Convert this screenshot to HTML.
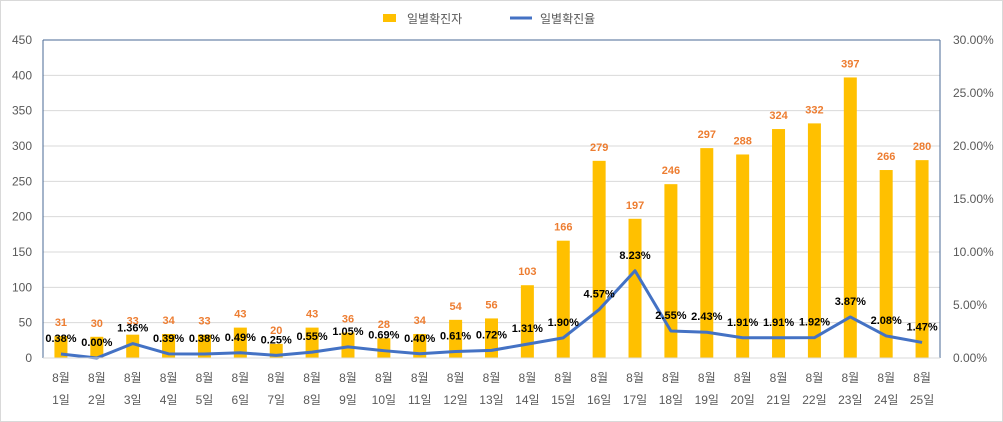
<!DOCTYPE html>
<html><head><meta charset="utf-8"><style>
body{margin:0;background:#fff}
svg{display:block;font-family:"Liberation Sans","Noto Sans CJK KR",sans-serif}
</style></head><body>
<svg id="c" width="1003" height="422">
<rect x="0.5" y="0.5" width="1002" height="421" fill="#fff" stroke="#d9d9d9"/>
<g>
<rect x="383" y="14" width="13" height="8" fill="#FFC000"/>
<text x="407" y="23" font-size="12" fill="#595959">일별확진자</text>
<line x1="510" y1="18" x2="532" y2="18" stroke="#4472C4" stroke-width="3"/>
<text x="540" y="23" font-size="12" fill="#595959">일별확진율</text>
</g>
<g id="grid"></g><g id="bars"></g><g id="line"></g><g id="labels"></g><g id="axes"></g>
</svg>
<script>
const categories=["1일","2일","3일","4일","5일","6일","7일","8일","9일","10일","11일","12일","13일","14일","15일","16일","17일","18일","19일","20일","21일","22일","23일","24일","25일"];
const cases=[31,30,33,34,33,43,20,43,36,28,34,54,56,103,166,279,197,246,297,288,324,332,397,266,280];
const rates=[0.38,0.00,1.36,0.39,0.38,0.49,0.25,0.55,1.05,0.69,0.40,0.61,0.72,1.31,1.90,4.57,8.23,2.55,2.43,1.91,1.91,1.92,3.87,2.08,1.47];
const leftTicks=[0,50,100,150,200,250,300,350,400,450];
const rightTicks=[0,5,10,15,20,25,30];
const L=43,R=940,T=40,B=358;
const NS="http://www.w3.org/2000/svg";
const yL=v=>B-(v/450)*(B-T);
const yR=v=>B-(v/30)*(B-T);
const step=(R-L)/categories.length;
const xC=i=>L+step*(i+0.5);
function mk(tag,attrs,parent,txt){const e=document.createElementNS(NS,tag);for(const k in attrs)e.setAttribute(k,attrs[k]);if(txt!==undefined)e.textContent=txt;document.getElementById(parent).appendChild(e);return e;}
leftTicks.forEach(t=>{
  if(t>0&&t<450){const g=mk('line',{x1:L,x2:R,y1:yL(t),y2:yL(t),stroke:'#d9d9d9'},'grid');
  
  }
  const e=mk('text',{x:32,y:yL(t)+4,'font-size':12,fill:'#595959','text-anchor':'end'},'axes',t);
  
  
});
rightTicks.forEach(t=>{
  const e=mk('text',{x:953,y:yR(t)+4,'font-size':12,fill:'#595959'},'axes',t.toFixed(2)+'%');
  
  
});
let a=mk('line',{x1:L,x2:L,y1:T,y2:B,stroke:'#4a6a94','stroke-width':1},'axes');


a=mk('line',{x1:R,x2:R,y1:T,y2:B,stroke:'#4a6a94','stroke-width':1},'axes');


a=mk('line',{x1:L,x2:R,y1:T,y2:T,stroke:'#4a6a94','stroke-width':1},'axes');


a=mk('line',{x1:L,x2:R,y1:B,y2:B,stroke:'#d9d9d9','stroke-width':1},'axes');


const bw=13;
categories.forEach((c,i)=>{
  const x=xC(i);
  const b=mk('rect',{x:x-bw/2,y:yL(cases[i]),width:bw,height:B-yL(cases[i]),fill:'#FFC000'},'bars');
  
  
  const bl=mk('text',{x:x,y:yL(cases[i])-10,'font-size':11,'font-weight':'bold',fill:'#ED7D31','text-anchor':'middle'},'labels',cases[i]);
  
  
  const t1=mk('text',{x:x,y:382,'font-size':12,fill:'#595959','text-anchor':'middle'},'axes','8월');
  
  
  const t2=mk('text',{x:x,y:404,'font-size':12,fill:'#595959','text-anchor':'middle'},'axes',c);
  
  
});
const pts=rates.map((r,i)=>xC(i)+','+yR(r)).join(' ');
const pl=mk('polyline',{points:pts,fill:'none',stroke:'#4472C4','stroke-width':3,'stroke-linejoin':'round'},'line');


rates.forEach((r,i)=>{
  const ll=mk('text',{x:xC(i),y:yR(r)-12,'font-size':11,'font-weight':'bold',fill:'#000','text-anchor':'middle'},'labels',r.toFixed(2)+'%');
  
  
});
</script>
</body></html>
